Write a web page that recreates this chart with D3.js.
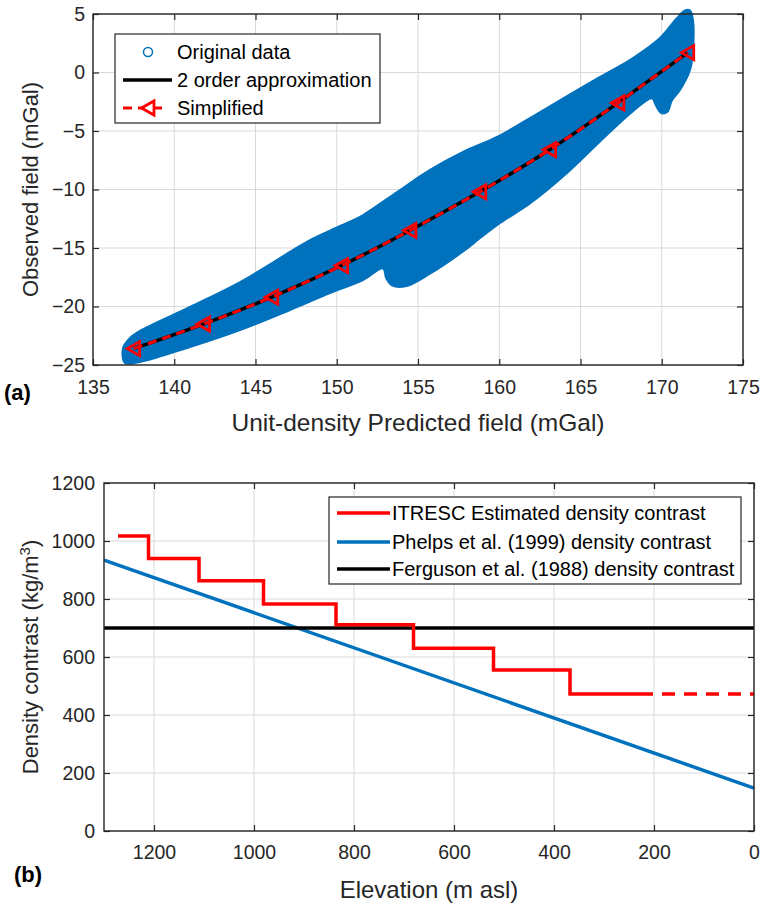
<!DOCTYPE html>
<html><head><meta charset="utf-8">
<script src="https://cdn.jsdelivr.net/npm/d3@7"></script>
<style>
body{margin:0;background:#fff}
text{font-family:"Liberation Sans",Arial,Helvetica,sans-serif}
</style></head>
<body><svg id="chart" width="764" height="906"></svg>
<script>
// ---------- Panel (a) data ----------
const aXTicks = [135,140,145,150,155,160,165,170,175];
const aYTicks = [-25,-20,-15,-10,-5,0,5];
// envelope of the "Original data" point cloud (upper and lower boundaries)
const cloudUpperX = [136.85,137.28,137.89,140.97,144.05,147.12,148.35,150.20,151.62,153.71,155.74,157.77,159.86,161.89,164.17,166.20,168.23,169.89,170.94,171.43,171.74,171.92];
const cloudUpperY = [-23.55,-22.69,-22.09,-20.04,-17.91,-15.34,-14.32,-13.12,-12.18,-10.21,-8.33,-6.79,-5.51,-3.89,-2.01,-0.38,1.24,2.95,4.66,5.3,5.3,4.49];
const cloudLowerX = [136.97,137.89,140.97,144.05,147.12,149.58,151.62,152.85,153.05,153.4,154.3,155.74,157.77,158.82,160.05,161.89,164.17,166.20,168.23,169.40,169.62,169.95,170.35,170.62,171.12,171.74,171.92];
const cloudLowerY = [-24.83,-24.74,-23.46,-22.01,-20.30,-18.85,-17.74,-16.75,-17.6,-18.2,-18.25,-17.2,-15.3,-14.15,-12.86,-11.2,-8.6,-5.9,-3.3,-2.2,-2.75,-3.45,-3.35,-2.4,-1.5,0.21,1.92];
const fitX = [137.5,141.8,146.0,150.3,154.5,158.8,163.1,167.3,171.6];
const fitY = [-23.6,-21.5,-19.2,-16.5,-13.5,-10.2,-6.6,-2.6,1.7];
const simpX = [137.5,141.8,146.0,150.3,154.5,158.8,163.1,167.3,171.6];
const simpY = [-23.6,-21.5,-19.2,-16.5,-13.5,-10.2,-6.6,-2.6,1.7];
const aLegend = ["Original data","2 order approximation","Simplified"];

// ---------- Panel (b) data ----------
const bXTicks = [1200,1000,800,600,400,200,0];
const bYTicks = [0,200,400,600,800,1000,1200];
const stepEdges = [1272,1211,1110,981,836,681,521,368,228];
const stepValues = [1017,940,863,783,711,630,555,472,472];
const extrapElev = [228,0];
const extrapDens = [472,472];
const phelpsElev = [1300,0];
const phelpsDens = [934,148];
const fergElev = [1300,0];
const fergDens = [700,700];
const bLegend = ["ITRESC Estimated density contrast","Phelps et al. (1999) density contrast","Ferguson et al. (1988) density contrast"];

const svg = d3.select("#chart");
const AX = "#262626", GRID = "#d9d9d9";
const BLUE = "#0072BD", RED = "#FF0000";
const FONT = "Liberation Sans, Arial, sans-serif";

function frame(g, x, y, xt, yt, w, h){
  g.append("g").selectAll("line").data(xt).join("line")
    .attr("x1",d=>x(d)).attr("x2",d=>x(d)).attr("y1",0).attr("y2",h)
    .attr("stroke",GRID).attr("stroke-width",1);
  g.append("g").selectAll("line").data(yt).join("line")
    .attr("y1",d=>y(d)).attr("y2",d=>y(d)).attr("x1",0).attr("x2",w)
    .attr("stroke",GRID).attr("stroke-width",1);
}
function axes(g, x, y, xt, yt, w, h, fs, xpad, ypad){
  const styl = s => { s.select(".domain").remove(); s.selectAll("line").attr("stroke",AX).attr("stroke-width",1.2);
    s.selectAll("text").attr("fill",AX).attr("font-size",fs).attr("font-family",FONT); };
  const f = d3.format("d");
  g.append("g").attr("transform",`translate(0,${h})`).call(d3.axisBottom(x).tickValues(xt).tickFormat(f).tickSize(-6).tickPadding(xpad)).call(styl);
  g.append("g").call(d3.axisTop(x).tickValues(xt).tickSize(-6).tickFormat("")).call(styl);
  g.append("g").call(d3.axisLeft(y).tickValues(yt).tickFormat(f).tickSize(-6).tickPadding(ypad)).call(styl);
  g.append("g").attr("transform",`translate(${w},0)`).call(d3.axisRight(y).tickValues(yt).tickSize(-6).tickFormat("")).call(styl);
  g.append("rect").attr("width",w).attr("height",h).attr("fill","none").attr("stroke",AX).attr("stroke-width",1.4);
}

// ================= Panel (a) =================
{
  const L=93, T=14, W=650, H=351;
  const g = svg.append("g").attr("transform",`translate(${L},${T})`);
  const x = d3.scaleLinear().domain([135,175]).range([0,W]);
  const y = d3.scaleLinear().domain([-25,5]).range([H,0]);
  frame(g,x,y,aXTicks,aYTicks,W,H);
  const up = cloudUpperX.map((v,i)=>[v,cloudUpperY[i]]);
  const lo = cloudLowerX.map((v,i)=>[v,cloudLowerY[i]]).reverse();
  const poly = up.concat(lo);
  const cloudLine = d3.line().x(d=>x(d[0])).y(d=>y(d[1])).curve(d3.curveCatmullRomClosed.alpha(0.5));
  g.append("path").attr("d", cloudLine(poly))
    .attr("fill",BLUE).attr("stroke",BLUE).attr("stroke-width",2).attr("stroke-linejoin","round");
  const fit = fitX.map((v,i)=>[v,fitY[i]]);
  g.append("path").attr("d", d3.line().x(d=>x(d[0])).y(d=>y(d[1])).curve(d3.curveNatural)(fit))
    .attr("fill","none").attr("stroke","#000").attr("stroke-width",3.5);
  const simp = simpX.map((v,i)=>[v,simpY[i]]);
  g.append("path").attr("d", d3.line().x(d=>x(d[0])).y(d=>y(d[1])).curve(d3.curveNatural)(simp))
    .attr("fill","none").attr("stroke",RED).attr("stroke-width",3).attr("stroke-dasharray","9,6");
  const tri = "M-6.5,0L6,-7L6,7Z";
  g.append("g").selectAll("path").data(simp).join("path")
    .attr("transform",d=>`translate(${x(d[0])},${y(d[1])})`).attr("d",tri)
    .attr("fill","none").attr("stroke",RED).attr("stroke-width",2.8).attr("stroke-linejoin","miter");
  axes(g,x,y,aXTicks,aYTicks,W,H,19.5,15,8);

  // legend
  const lg = svg.append("g").attr("transform","translate(115,34)");
  lg.append("rect").attr("width",265).attr("height",89).attr("fill","#fff").attr("stroke",AX).attr("stroke-width",1.2);
  const rows=[18,46,74];
  lg.append("circle").attr("cx",33).attr("cy",rows[0]).attr("r",4.5).attr("fill","none").attr("stroke",BLUE).attr("stroke-width",1.5);
  lg.append("line").attr("x1",8).attr("x2",57).attr("y1",rows[1]).attr("y2",rows[1]).attr("stroke","#000").attr("stroke-width",3.5);
  lg.append("line").attr("x1",8).attr("x2",49).attr("y1",rows[2]).attr("y2",rows[2]).attr("stroke",RED).attr("stroke-width",3).attr("stroke-dasharray","9,6");
  lg.append("path").attr("transform",`translate(33,${rows[2]})`).attr("d",tri).attr("fill","#fff").attr("stroke",RED).attr("stroke-width",2.8);
  lg.selectAll("text.l").data(aLegend).join("text").attr("class","l")
    .attr("x",62).attr("y",(d,i)=>rows[i]+7).attr("font-size",20).attr("fill","#000").text(d=>d);

  svg.append("text").attr("x",L+W/2).attr("y",431).attr("text-anchor","middle").attr("font-size",24.5).attr("fill",AX).text("Unit-density Predicted field (mGal)");
  svg.append("text").attr("transform",`translate(38,${T+H/2}) rotate(-90)`).attr("text-anchor","middle").attr("font-size",22).attr("fill",AX).text("Observed field (mGal)");
  svg.append("text").attr("x",4).attr("y",400).attr("font-size",22).attr("font-weight","bold").attr("fill","#000").text("(a)");
}

// ================= Panel (b) =================
{
  const L=104, T=483, W=650, H=348;
  const g = svg.append("g").attr("transform",`translate(${L},${T})`);
  const x = d3.scaleLinear().domain([1300,0]).range([0,W]);
  const y = d3.scaleLinear().domain([0,1200]).range([H,0]);
  frame(g,x,y,bXTicks,bYTicks,W,H);
  const ln = d3.line().x(d=>x(d[0])).y(d=>y(d[1]));
  g.append("path").attr("d", ln(phelpsElev.map((v,i)=>[v,phelpsDens[i]])))
    .attr("fill","none").attr("stroke",BLUE).attr("stroke-width",3.5);
  g.append("path").attr("d", ln(fergElev.map((v,i)=>[v,fergDens[i]])))
    .attr("fill","none").attr("stroke","#000").attr("stroke-width",3.5);
  g.append("path").attr("d", d3.line().x(d=>x(d[0])).y(d=>y(d[1])).curve(d3.curveStepAfter)(stepEdges.map((v,i)=>[v,stepValues[i]])))
    .attr("fill","none").attr("stroke",RED).attr("stroke-width",3.5);
  g.append("path").attr("d", ln(extrapElev.map((v,i)=>[v,extrapDens[i]])))
    .attr("fill","none").attr("stroke",RED).attr("stroke-width",3.5).attr("stroke-dasharray","13,9");
  axes(g,x,y,bXTicks,bYTicks,W,H,19.5,14,9);

  const lg = svg.append("g").attr("transform","translate(329,497)");
  lg.append("rect").attr("width",412).attr("height",87).attr("fill","#fff").attr("stroke",AX).attr("stroke-width",1.2);
  const rows=[16,45,72], cols=[RED,BLUE,"#000"];
  lg.selectAll("line.l").data(cols).join("line").attr("class","l")
    .attr("x1",8).attr("x2",61).attr("y1",(d,i)=>rows[i]).attr("y2",(d,i)=>rows[i]).attr("stroke",d=>d).attr("stroke-width",3.5);
  lg.selectAll("text.l").data(bLegend).join("text").attr("class","l")
    .attr("x",63).attr("y",(d,i)=>rows[i]+7).attr("font-size",20).attr("fill","#000").text(d=>d);

  svg.append("text").attr("x",L+W/2).attr("y",898).attr("text-anchor","middle").attr("font-size",24).attr("fill",AX).text("Elevation (m asl)");
  const yt = svg.append("text").attr("transform",`translate(38,${T+H/2}) rotate(-90)`).attr("text-anchor","middle").attr("font-size",22).attr("fill",AX);
  yt.append("tspan").text("Density contrast (kg/m");
  yt.append("tspan").attr("baseline-shift","super").attr("font-size",15).text("3");
  yt.append("tspan").text(")");
  svg.append("text").attr("x",14).attr("y",882).attr("font-size",22).attr("font-weight","bold").attr("fill","#000").text("(b)");
}
</script></body></html>
